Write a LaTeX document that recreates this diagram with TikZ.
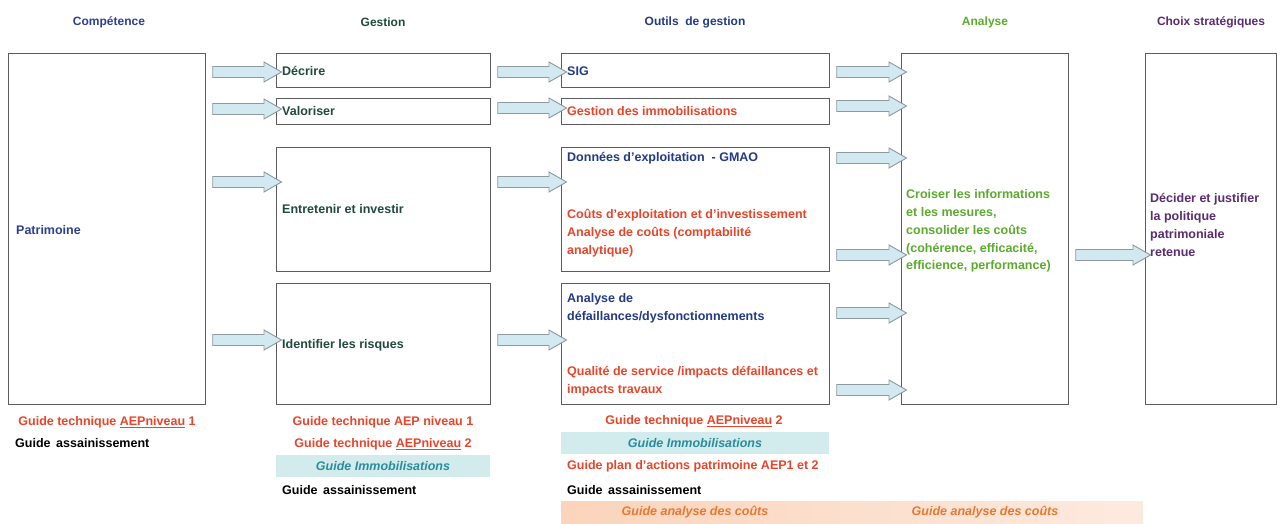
\documentclass[tikz,border=0pt]{standalone}
\usepackage{fontspec}
\setmainfont{Liberation Sans}
\usetikzlibrary{calc}

\definecolor{hdrblue}{HTML}{2E3F8F}
\definecolor{gestteal}{HTML}{214A3E}
\definecolor{outblue}{HTML}{233A86}
\definecolor{redtxt}{HTML}{E8452B}
\definecolor{anagreen}{HTML}{5CAB2E}
\definecolor{choixpurple}{HTML}{5B2C6F}
\definecolor{tealit}{HTML}{2B8C99}
\definecolor{bandblue}{HTML}{D2ECEE}
\definecolor{bandorangeA}{HTML}{FBD4BB}
\definecolor{bandorangeB}{HTML}{FDEADF}
\definecolor{orangetxt}{HTML}{E9782E}
\definecolor{boxline}{HTML}{5C5C5C}
\definecolor{arrfill}{HTML}{D3E9F1}
\definecolor{arrline}{HTML}{8D9AA0}

% block arrow from the east side of #1 to the west side of #2, at height #3
\newcommand\flowarrow[3]{%
  \draw[flowarr] let \p1=(#1.east), \p2=(#2.west), \p3=(0,#3) in
    (\x1+6.5pt,\y3+5.5pt) -- (\x2-12pt,\y3+5.5pt) -- (\x2-12pt,\y3+10pt)
    -- (\x2+5.5pt,\y3) -- (\x2-12pt,\y3-10pt) -- (\x2-12pt,\y3-5.5pt)
    -- (\x1+6.5pt,\y3-5.5pt) -- cycle;}

\tikzset{
  panel/.style={draw=boxline, line width=1.2pt, anchor=north west, inner sep=0pt},
  flowarr/.style={draw=arrline, fill=arrfill, line width=0.9pt, line join=miter},
  txt/.style={inner sep=0pt, font=\bfseries\fontsize{12.5}{17.8}\selectfont, align=left},
  hdr/.style={inner sep=0pt, font=\bfseries\fontsize{12}{14}\selectfont},
  blueband/.style={fill=bandblue, inner sep=0pt, minimum height=22,
    font=\bfseries\itshape\fontsize{12.5}{14}\selectfont, text=tealit},
}

\begin{document}
\begin{tikzpicture}[x=1pt, y=-1pt]
\useasboundingbox (0,0) rectangle (1277,524);
\fill[white] (0,0) rectangle (1277,524);

% column headers
\node[hdr, text=hdrblue]    (h1) at (109,22) {Compétence};
\node[hdr, text=gestteal]   (h2) at (383,22) {Gestion};
\node[hdr, text=outblue]    (h3) at (695,22) {Outils\ \ de gestion};
\node[hdr, text=anagreen]   (h4) at (985,22) {Analyse};
\node[hdr, text=choixpurple](h5) at (1211,22) {Choix stratégiques};

% panels
\node[panel, minimum width=197, minimum height=351] (pat) at (8,53) {};
\node[panel, minimum width=214, minimum height=34]  (dec) at (276,53) {};
\node[panel, minimum width=214, minimum height=26]  (val) at (276,98) {};
\node[panel, minimum width=214, minimum height=124] (ent) at (276,147) {};
\node[panel, minimum width=214, minimum height=121] (idr) at (276,283) {};
\node[panel, minimum width=268, minimum height=34]  (sig) at (561,53) {};
\node[panel, minimum width=268, minimum height=26]  (imm) at (561,98) {};
\node[panel, minimum width=268, minimum height=124] (don) at (561,147) {};
\node[panel, minimum width=268, minimum height=121] (def) at (561,283) {};
\node[panel, minimum width=167, minimum height=351] (ana) at (901,53) {};
\node[panel, minimum width=131, minimum height=351] (cho) at (1145,53) {};

% panel texts
\node[txt, text=hdrblue, anchor=west]  (tpat) at (16,230) {Patrimoine};
\node[txt, text=gestteal, anchor=west] (tdec) at (282,71) {Décrire};
\node[txt, text=gestteal, anchor=west] (tval) at (282,111) {Valoriser};
\node[txt, text=gestteal, anchor=west] (tent) at (282,209) {Entretenir et investir};
\node[txt, text=gestteal, anchor=west] (tidr) at (282,345) {Identifier les risques};
\node[txt, text=outblue, anchor=west]  (tsig) at (567,71) {SIG};
\node[txt, text=redtxt, anchor=west]   (timm) at (567,111) {Gestion des immobilisations};
\node[txt, text=outblue, anchor=west]  (tdon) at (567,158) {Données d'exploitation\ \ - GMAO};
\node[txt, text=redtxt, anchor=west]   (tcout) at (567,233) {Coûts d'exploitation et d'investissement\\Analyse de coûts (comptabilité\\analytique)};
\node[txt, text=outblue, anchor=west]  (tdef) at (567,308) {Analyse de\\défaillances/dysfonctionnements};
\node[txt, text=redtxt, anchor=west]   (tqual) at (567,381) {Qualité de service /impacts défaillances et\\impacts travaux};
\node[txt, text=anagreen, anchor=west] (tana) at (906,231) {Croiser les informations\\et les mesures,\\consolider les coûts\\(cohérence, efficacité,\\efficience, performance)};
\node[txt, text=choixpurple, anchor=west] (tcho) at (1150,225) {Décider et justifier\\la politique\\patrimoniale\\retenue};

% block arrows
\flowarrow{pat}{dec}{72}
\flowarrow{pat}{val}{109}
\flowarrow{pat}{ent}{182}
\flowarrow{pat}{idr}{340}
\flowarrow{dec}{sig}{72}
\flowarrow{val}{imm}{108}
\flowarrow{ent}{don}{182}
\flowarrow{idr}{def}{340}
\flowarrow{sig}{ana}{72}
\flowarrow{imm}{ana}{106}
\flowarrow{don}{ana}{158}
\flowarrow{don}{ana}{255}
\flowarrow{def}{ana}{313}
\flowarrow{def}{ana}{390}
\flowarrow{ana}{cho}{255}

% guides under each column
\node[txt, text=redtxt] (g11) at (107,422) {Guide technique \underline{AEPniveau} 1};
\node[txt, anchor=west] (g12) at (15,443) {Guide\hspace{0.45em}assainissement};

\node[txt, text=redtxt] (g21) at (383,422) {Guide technique AEP niveau 1};
\node[txt, text=redtxt] (g22) at (383,444) {Guide technique \underline{AEPniveau} 2};
\node[blueband, minimum width=214] (g23) at (383,466) {Guide Immobilisations};
\node[txt, anchor=west] (g24) at (282,490) {Guide\hspace{0.45em}assainissement};

\node[txt, text=redtxt] (g31) at (694,421) {Guide technique \underline{AEPniveau} 2};
\node[blueband, minimum width=268] (g32) at (695,443) {Guide Immobilisations};
\node[txt, text=redtxt, anchor=west] (g33) at (567,466) {Guide plan d'actions patrimoine AEP1 et 2};
\node[txt, anchor=west] (g34) at (567,490) {Guide\hspace{0.45em}assainissement};

\node[anchor=north west, inner sep=0pt, minimum width=582, minimum height=22,
      left color=bandorangeA, right color=bandorangeB] (cband) at (561,501) {};
\node[txt, font=\bfseries\itshape\fontsize{12.5}{14}\selectfont, text=orangetxt] (g35) at (695,512) {Guide analyse des coûts};
\node[txt, font=\bfseries\itshape\fontsize{12.5}{14}\selectfont, text=orangetxt] (g36) at (985,512) {Guide analyse des coûts};
\end{tikzpicture}
\end{document}
